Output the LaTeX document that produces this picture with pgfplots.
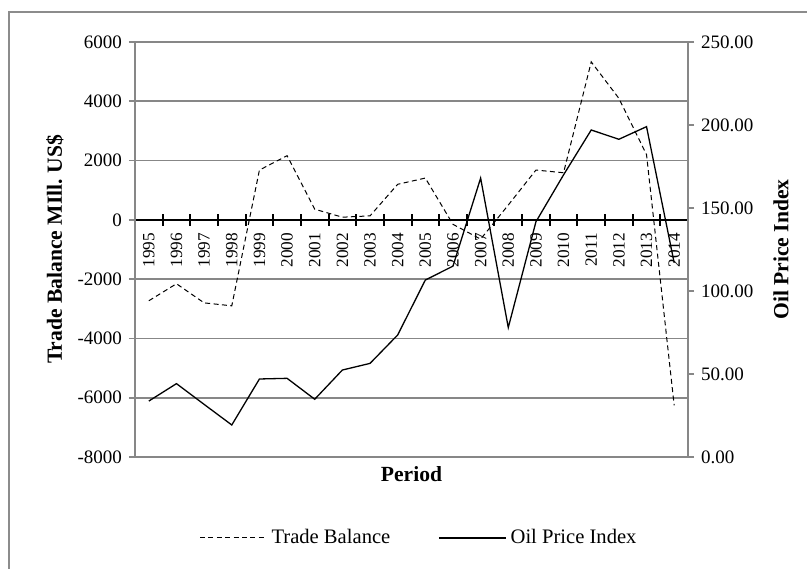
\documentclass[border=0pt]{standalone}
\usepackage{fontspec}
\setmainfont{Liberation Serif}
\usepackage{pgfplots}
\pgfplotsset{compat=1.18}
\definecolor{gridgray}{HTML}{878787}
\definecolor{framegray}{HTML}{8C8C8C}
\begin{document}
\begin{tikzpicture}
\begin{axis}[
  at={(0pt,0pt)}, anchor=south west,
  scale only axis, width=276.5pt, height=207.5pt,
  xmin=0.5, xmax=20.5, ymin=-8000, ymax=6000,
  axis y line*=left, axis x line*=middle,
  hide obscured x ticks=false,
  ytick={-8000,-6000,-4000,-2000,0,2000,4000,6000},
  scaled y ticks=false,
  /pgf/number format/1000 sep={},
  /pgf/number format/assume math mode=true,
  ymajorgrids, grid style={gridgray, line width=0.9pt},
  y axis line style={gridgray, line width=0.9pt},
  x axis line style={black, line width=1.3pt},
  xtick={0.5,1.5,...,20.5},
  x tick label as interval,
  xticklabels={1995,1996,1997,1998,1999,2000,2001,2002,2003,2004,2005,2006,2007,2008,2009,2010,2011,2012,2013,2014},
  tick align=center,
  major tick length=6pt,
  ytick style={gridgray, line width=0.9pt},
  xtick style={black, line width=1pt},
  xticklabel style={rotate=90, anchor=east, font=\fontsize{8.6}{10}\selectfont},
  yticklabel style={font=\fontsize{9.5}{11}\selectfont},
  xlabel={Period},
  xlabel style={at={(axis description cs:0.5,-0.042)}, anchor=center, font=\fontsize{10.8}{13}\selectfont\bfseries},
  ylabel={Trade Balance MIll.\ US\$},
  ylabel style={at={(axis description cs:-0.1447,0.5)}, anchor=center, font=\fontsize{10.8}{13}\selectfont\bfseries},
]
\addplot[black, line width=0.5pt, dash pattern=on 2.5pt off 1.7pt] coordinates {
(1,-2730) (2,-2155) (3,-2800) (4,-2900) (5,1680) (6,2165) (7,360) (8,90) (9,135) (10,1200)
(11,1410) (12,-150) (13,-650) (14,500) (15,1680) (16,1590) (17,5330) (18,4100) (19,2200) (20,-6260)
};
\end{axis}
\begin{axis}[
  at={(0pt,0pt)}, anchor=south west,
  scale only axis, width=276.5pt, height=207.5pt,
  xmin=0.5, xmax=20.5, ymin=0, ymax=250,
  axis x line=none, axis y line*=right,
  ytick={0,50,100,150,200,250},
  y axis line style={gridgray, line width=0.9pt},
  ytick style={gridgray, line width=0.9pt},
  tick align=outside, major tick length=3pt,
  yticklabel style={font=\fontsize{9.5}{11}\selectfont, /pgf/number format/.cd, fixed, fixed zerofill, precision=2, assume math mode=true},
  ylabel={Oil Price Index},
  ylabel style={at={(axis description cs:1.168,0.5)}, anchor=center, font=\fontsize{10.8}{13}\selectfont\bfseries},
  legend style={at={(0.5154,-0.195)}, anchor=center, draw=none, fill=none, font=\fontsize{10.3}{12}\selectfont, legend columns=2, /tikz/every even column/.append style={column sep=22pt}},
  legend cell align=left,
  legend image code/.code={\draw[#1] (0pt,0pt) -- (33.5pt,0pt);},
]
\addlegendimage{black, line width=0.5pt, dash pattern=on 2.5pt off 1.7pt}
\addlegendentry{Trade Balance}
\addplot[black, line width=0.65pt] coordinates {
(1,33.7) (2,44.2) (3,31.7) (4,19.3) (5,47.0) (6,47.4) (7,34.8) (8,52.4) (9,56.4) (10,73.5)
(11,106.6) (12,115.0) (13,168.0) (14,78.0) (15,141.7) (16,170.0) (17,197.0) (18,191.4) (19,199.0) (20,117.0)
};
\addlegendentry{Oil Price Index}
\end{axis}
\draw[framegray, line width=0.8pt] (-63pt,-90pt) rectangle (360pt,222.5pt);
\pgfresetboundingbox
\path[use as bounding box] (-67.5pt,-55.5pt) rectangle (336pt,228.5pt);
\end{tikzpicture}
\end{document}
